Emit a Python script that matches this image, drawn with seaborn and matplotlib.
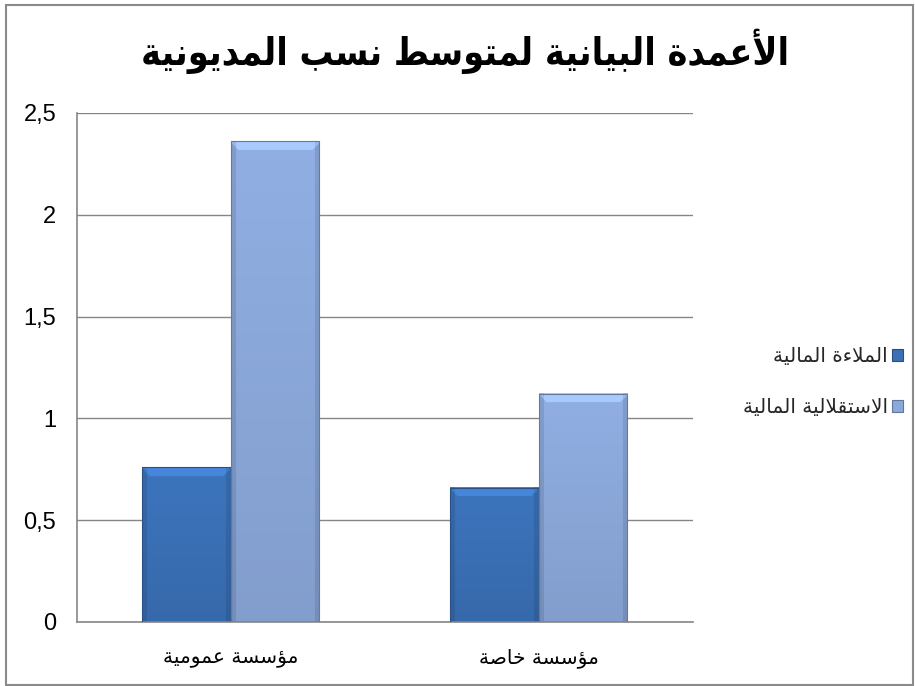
import numpy as np
import pandas as pd
import matplotlib
matplotlib.use("Agg")
import matplotlib.pyplot as plt
import seaborn as sns
from matplotlib.ticker import FuncFormatter, FixedLocator
from matplotlib.patches import Rectangle, Patch
from matplotlib.colors import to_rgb

# ---- data -------------------------------------------------------------
title = "الأعمدة البيانية لمتوسط نسب المديونية"
categories = ["مؤسسة عمومية", "مؤسسة خاصة"]
series = ["الملاءة المالية", "الاستقلالية المالية"]
solvency = [0.76, 0.66]          # الملاءة المالية
independence = [2.36, 1.12]      # الاستقلالية المالية
y_ticks = [0, 0.5, 1, 1.5, 2, 2.5]
colors = ["#3A70B6", "#8BA8DA"]

# ---- minimal Arabic shaping (contextual forms + visual order) ---------
DUAL = {'ب': 0xFE8F, 'ت': 0xFE95, 'خ': 0xFEA5, 'س': 0xFEB1, 'ص': 0xFEB9,
        'ط': 0xFEC1, 'ع': 0xFEC9, 'ق': 0xFED5, 'ل': 0xFEDD, 'م': 0xFEE1,
        'ن': 0xFEE5, 'ي': 0xFEF1}
RIGHT = {'أ': 0xFE83, 'ؤ': 0xFE85, 'ا': 0xFE8D, 'ة': 0xFE93, 'د': 0xFEA9,
         'و': 0xFEED, 'لا': 0xFEFB, 'لأ': 0xFEF7}
ISOLATED = {'ء': 0xFE80}


def shape_word(word):
    toks = []
    i = 0
    while i < len(word):
        if word[i] == 'ل' and i + 1 < len(word) and word[i + 1] in 'اأ':
            toks.append(word[i:i + 2])
            i += 2
        else:
            toks.append(word[i])
            i += 1
    out = []
    for k, t in enumerate(toks):
        prev_joins = k > 0 and toks[k - 1] in DUAL
        next_joins = k + 1 < len(toks) and (toks[k + 1] in DUAL or toks[k + 1] in RIGHT)
        if t in DUAL:
            if prev_joins and next_joins:
                off = 3
            elif next_joins:
                off = 2
            elif prev_joins:
                off = 1
            else:
                off = 0
            out.append(chr(DUAL[t] + off))
        elif t in RIGHT:
            out.append(chr(RIGHT[t] + (1 if prev_joins else 0)))
        elif t in ISOLATED:
            out.append(chr(ISOLATED[t]))
        else:
            out.append(t)
    return "".join(out)


def ar(text):
    shaped = " ".join(shape_word(w) for w in text.split(" "))
    return shaped[::-1]


# ---- table for seaborn -------------------------------------------------
df = pd.DataFrame({
    "category": categories * 2,
    "series": [series[0]] * len(categories) + [series[1]] * len(categories),
    "value": solvency + independence,
})

sns.set_style("white")
plt.rcParams["font.family"] = ["DejaVu Sans"]

fig = plt.figure(figsize=(9.15, 6.86), dpi=100)
ax = fig.add_axes([0.0842, 0.0933, 0.6728, 0.742])

sns.barplot(data=df, x="category", y="value", hue="series",
            order=categories, hue_order=series, palette=colors,
            saturation=1, width=0.575, gap=0, ax=ax, legend=False,
            edgecolor="none", linewidth=0, zorder=2)

ax.set_xlim(-0.5, 1.5)
ax.set_ylim(0, 2.5)
ax.set_xlabel("")
ax.set_ylabel("")

# bevelled gradient fill on each bar
to_px = ax.transData
for patch in list(ax.patches):
    x0, y0 = patch.get_x(), patch.get_y()
    w, h = patch.get_width(), patch.get_height()
    if h <= 0:
        continue
    base = np.array(to_rgb(patch.get_facecolor()))
    p0 = to_px.transform((x0, y0))
    p1 = to_px.transform((x0 + w, y0 + h))
    wpx, hpx = abs(p1[0] - p0[0]), abs(p1[1] - p0[1])
    ny, nx = max(int(hpx), 2), max(int(wpx), 2)
    yy = np.linspace(0, hpx, ny)[:, None]      # distance from top, px
    xx = np.linspace(0, wpx, nx)[None, :]
    shade = np.ones((ny, nx)) * (1.04 - 0.10 * (yy / hpx))  # darker toward bottom
    bevel = 9.0
    top = yy < bevel
    side = np.minimum(xx, wpx - xx) < 5
    shade = np.where(side, shade * 0.90, shade)
    shade = np.where(top & (yy < np.minimum(xx, wpx - xx) + 1), shade * 1.16, shade)
    img = np.clip(base[None, None, :] * shade[:, :, None], 0, 1)
    ax.imshow(img, extent=[x0, x0 + w, y0, y0 + h], origin="upper",
              aspect="auto", interpolation="bilinear", zorder=2.5)
    ax.add_patch(Rectangle((x0, y0), w, h, fill=False,
                           edgecolor=tuple(base * 0.72), linewidth=0.8, zorder=2.6))

ax.set_xlim(-0.5, 1.5)
ax.set_ylim(0, 2.5)

# grid and spines
grey = "#868686"
ax.set_axisbelow(True)
ax.yaxis.grid(True, color=grey, linewidth=1.0)
ax.xaxis.grid(False)
for s in ("top", "right"):
    ax.spines[s].set_visible(False)
for s in ("left", "bottom"):
    ax.spines[s].set_color(grey)
    ax.spines[s].set_linewidth(1.2)

# y axis
ax.yaxis.set_major_locator(FixedLocator(y_ticks))
ax.yaxis.set_major_formatter(FuncFormatter(lambda v, _: f"{v:g}".replace(".", ",")))
ax.tick_params(axis="y", which="major", direction="out", length=5, width=1,
               color=grey, pad=10, labelsize=17, labelcolor="black")
for lab in ax.get_yticklabels():
    lab.set_family("Liberation Sans")

# x axis: labels at category centres, tick marks between categories
ax.set_xticks(range(len(categories)))
ax.set_xticklabels([ar(c) for c in categories])
ax.set_xticks([-0.5, 0.5, 1.5], minor=True)
ax.tick_params(axis="x", which="major", length=0, pad=19, labelsize=14.5,
               labelcolor="black")
ax.tick_params(axis="x", which="minor", direction="out", length=7, width=1,
               color=grey)

# legend on the right, key after the text
handles = [Patch(facecolor=c, edgecolor=tuple(np.array(to_rgb(c)) * 0.7),
                 linewidth=0.8) for c in colors]
fig.legend(handles, [ar(s) for s in series], loc="center right",
           bbox_to_anchor=(903 / 915, 0.443), frameon=False, markerfirst=False,
           fontsize=14.5, handlelength=0.55, handleheight=0.55,
           handletextpad=0.2, labelspacing=1.6, borderpad=0, borderaxespad=0)

# title
fig.text(0.508, 0.925, ar(title), ha="center", va="center",
         fontsize=27, fontweight="bold", fontstretch="condensed", color="black")

# chart-area border
fig.patches.append(Rectangle((6 / 915, 1 / 686), 907 / 915, 680 / 686,
                             transform=fig.transFigure, fill=False,
                             edgecolor="#8a8a8a", linewidth=1.5, zorder=0))

fig.savefig("out.png", dpi=100)
